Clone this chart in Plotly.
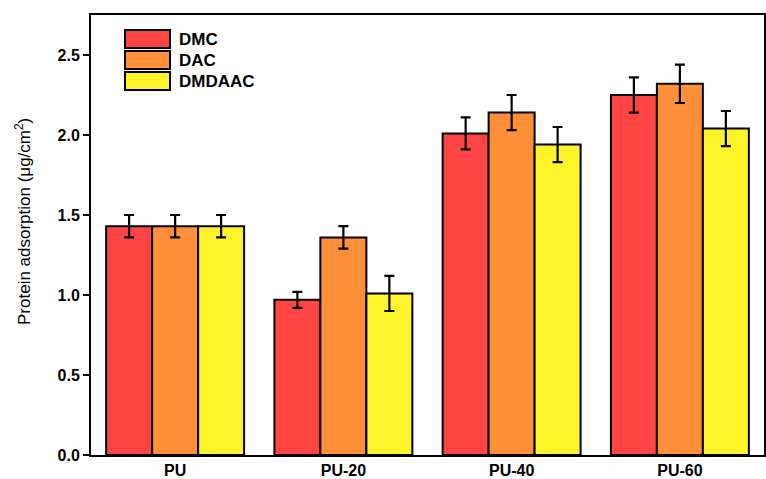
import plotly.graph_objects as go

categories = ["PU", "PU-20", "PU-40", "PU-60"]
series_names = ["DMC", "DAC", "DMDAAC"]
dmc = [1.43, 0.97, 2.01, 2.25]
dmc_err = [0.07, 0.05, 0.10, 0.11]
dac = [1.43, 1.36, 2.14, 2.32]
dac_err = [0.07, 0.07, 0.11, 0.12]
dmdaac = [1.43, 1.01, 1.94, 2.04]
dmdaac_err = [0.07, 0.11, 0.11, 0.11]
colors = ["#FF4444", "#FF8F38", "#FFF42A"]
yticks = [0.0, 0.5, 1.0, 1.5, 2.0, 2.5]

fig = go.Figure()
for name, vals, errs, col in zip(series_names, [dmc, dac, dmdaac],
                                 [dmc_err, dac_err, dmdaac_err], colors):
    fig.add_trace(go.Bar(
        name=name, x=categories, y=vals, showlegend=False,
        marker=dict(color=col, line=dict(color="black", width=2)),
        error_y=dict(type="data", array=errs, color="black", thickness=2.2, width=5),
    ))

W, H = 766, 479
L, R, T, B = 91, 2, 15, 24
pw, ph = W - L - R, H - T - B

def px(x):
    return (x - L) / pw

def py(y):
    return (H - B - y) / ph

shapes = []
annotations = []
for i, (name, col) in enumerate(zip(series_names, colors)):
    y0 = 30 + i * 21
    shapes.append(dict(type="rect", xref="paper", yref="paper",
                       x0=px(125), x1=px(170), y0=py(y0 + 18), y1=py(y0),
                       fillcolor=col, line=dict(color="black", width=2)))
    annotations.append(dict(xref="paper", yref="paper", x=px(177), y=py(y0 + 9),
                            text="<b>%s</b>" % name, showarrow=False,
                            xanchor="left", yanchor="middle",
                            font=dict(size=17, color="black", family="Liberation Sans, Arial")))

# y-axis title as annotation (regular weight, slightly above centre as in reference)
annotations.append(dict(xref="paper", yref="paper", x=px(23), y=py(222),
                        text="Protein adsorption (μg/cm<sup>2</sup>)", textangle=-90,
                        showarrow=False, xanchor="center", yanchor="middle",
                        font=dict(size=17, color="black", family="Liberation Sans, Arial")))

fig.update_layout(
    width=W, height=H,
    margin=dict(l=L, r=R, t=T, b=B, autoexpand=False),
    paper_bgcolor="white", plot_bgcolor="white",
    barmode="group", bargap=0.18, bargroupgap=0,
    font=dict(family="Liberation Sans, Arial", color="black", size=15),
    shapes=shapes, annotations=annotations,
    xaxis=dict(showline=True, linecolor="black", linewidth=2, mirror=True,
               ticks="", tickfont=dict(size=16), tickprefix="<b>", ticksuffix="</b>",
               range=[-0.5, 3.5], automargin=False),
    yaxis=dict(range=[0, 2.75], tickvals=yticks,
               ticktext=["<b>%.1f</b>" % v for v in yticks],
               showline=True, linecolor="black", linewidth=2, mirror=True,
               ticks="outside", ticklen=6, tickwidth=2, tickcolor="black",
               showgrid=False, zeroline=False, tickfont=dict(size=16),
               automargin=False),
)

fig.write_html("out.html", config={"displayModeBar": False},
               post_script="document.body.style.margin='0';document.body.style.overflow='hidden';")
